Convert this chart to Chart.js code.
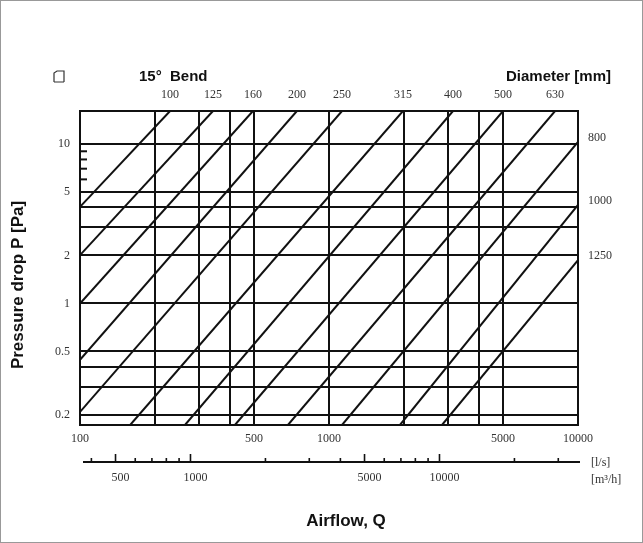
<!DOCTYPE html>
<html>
<head>
<meta charset="utf-8">
<script src="https://cdn.jsdelivr.net/npm/chart.js@4"></script>
<style>
  body { margin: 0; background: #fff; }
  #wrap { width: 643px; height: 543px; }
</style>
</head>
<body>
<div id="wrap"><canvas id="chart" width="643" height="543"></canvas></div>
<script>
// diameter lines [mm], each read as two end points (airflow l/s, pressure drop Pa)
const diameters = [100, 125, 160, 200, 250, 315, 400, 500, 630, 800, 1000, 1250];
const startFlow = [100, 100, 100, 100, 100, 159, 264, 419, 684, 1128, 1927, 2843];
const startDrop = [4.03, 2.01, 1.0, 0.443, 0.209, 0.173, 0.173, 0.173, 0.173, 0.173, 0.173, 0.173];
const endFlow = [230, 342, 495, 743, 1128, 1982, 3148, 5000, 8090, 10000, 10000, 10000];
const endDrop = [16.1, 16.1, 16.1, 16.1, 16.1, 16.1, 16.1, 16.1, 16.1, 10.3, 4.15, 1.87];

// axes
const flowRange = [100, 10000];
const dropRange = [0.173, 16.1];
const flowGrid = [100, 200, 300, 400, 500, 1000, 2000, 3000, 4000, 5000, 10000];
const flowLabels = [100, 500, 1000, 5000, 10000];
const dropGrid = [0.2, 0.3, 0.4, 0.5, 1, 2, 3, 4, 5, 10];
const dropLabels = [0.2, 0.5, 1, 2, 5, 10];
const dropMinor = [6, 7, 8, 9];
// second airflow scale in m3/h
const m3hTicks = [400, 500, 600, 700, 800, 900, 1000, 2000, 3000, 4000, 5000, 6000, 7000, 8000, 9000, 10000, 20000, 30000];
const m3hLabels = [500, 1000, 5000, 10000];

const serif = '"Liberation Serif", "DejaVu Serif", serif';
const sans = '"Liberation Sans", Arial, sans-serif';

const datasets = diameters.map((d, i) => ({
  label: d + ' mm',
  data: [{ x: startFlow[i], y: startDrop[i] }, { x: endFlow[i], y: endDrop[i] }],
  showLine: true,
  borderColor: '#111',
  borderWidth: 2,
  pointRadius: 0
}));

const decor = {
  id: 'decor',
  afterDraw(chart) {
    const ctx = chart.ctx;
    const a = chart.chartArea;
    const x = chart.scales.x, y = chart.scales.y;
    ctx.save();

    // frame of the plot
    ctx.strokeStyle = '#111';
    ctx.lineWidth = 2;
    ctx.strokeRect(a.left, a.top, a.right - a.left, a.bottom - a.top);

    // minor ticks on the left edge
    dropMinor.forEach(v => {
      const py = y.getPixelForValue(v);
      ctx.beginPath();
      ctx.moveTo(a.left, py);
      ctx.lineTo(a.left + 7, py);
      ctx.stroke();
    });

    // diameter labels
    ctx.fillStyle = '#333';
    ctx.font = '12px ' + serif;
    ctx.textBaseline = 'middle';
    diameters.forEach((d, i) => {
      if (endDrop[i] >= dropRange[1]) {
        ctx.textAlign = 'center';
        ctx.fillText(String(d), x.getPixelForValue(endFlow[i]), 95);
      } else {
        ctx.textAlign = 'left';
        ctx.fillText(String(d), a.right + 10, y.getPixelForValue(endDrop[i]) - 4);
      }
    });

    // headings
    ctx.fillStyle = '#111';
    ctx.font = 'bold 15px ' + sans;
    ctx.textAlign = 'left';
    ctx.fillText('15°  Bend', 139, 77);
    ctx.textAlign = 'right';
    ctx.fillText('Diameter [mm]', 611, 77);

    // small duct icon
    ctx.lineWidth = 1.2;
    ctx.strokeStyle = '#333';
    ctx.beginPath();
    ctx.moveTo(54, 82); ctx.lineTo(54, 73); ctx.lineTo(57, 71); ctx.lineTo(64, 71); ctx.lineTo(64, 82);
    ctx.moveTo(54, 82); ctx.lineTo(64, 82);
    ctx.stroke();

    // second airflow axis (m3/h) placed through the l/s scale
    const ay = 462;
    ctx.strokeStyle = '#111';
    ctx.lineWidth = 2;
    ctx.beginPath();
    ctx.moveTo(a.left + 3, ay);
    ctx.lineTo(a.right + 2, ay);
    ctx.stroke();
    ctx.lineWidth = 1.6;
    m3hTicks.forEach(m => {
      const px = x.getPixelForValue(m / 3.6);
      const h = m3hLabels.includes(m) ? 8 : 4;
      ctx.beginPath();
      ctx.moveTo(px, ay);
      ctx.lineTo(px, ay - h);
      ctx.stroke();
    });
    ctx.fillStyle = '#333';
    ctx.font = '12px ' + serif;
    ctx.textAlign = 'center';
    m3hLabels.forEach(m => {
      ctx.fillText(String(m), x.getPixelForValue(m / 3.6) + 5, 478);
    });
    ctx.textAlign = 'left';
    ctx.fillText('[l/s]', 591, 463);
    ctx.fillText('[m³/h]', 591, 480);

    // axis titles
    ctx.fillStyle = '#111';
    ctx.font = 'bold 17px ' + sans;
    ctx.textAlign = 'center';
    ctx.fillText('Airflow, Q', 346, 521);
    ctx.save();
    ctx.translate(18, 285);
    ctx.rotate(-Math.PI / 2);
    ctx.font = 'bold 17px ' + sans;
    ctx.fillText('Pressure drop P [Pa]', 0, 0);
    ctx.restore();

    // outer frame of the figure
    ctx.strokeStyle = '#999';
    ctx.lineWidth = 1;
    ctx.strokeRect(0.5, 0.5, 642, 542);
    ctx.restore();
  }
};

new Chart(document.getElementById('chart'), {
  type: 'scatter',
  data: { datasets: datasets },
  options: {
    responsive: false,
    animation: false,
    layout: { padding: { top: 111, right: 65, left: 0, bottom: 0 } },
    plugins: { legend: { display: false }, tooltip: { enabled: false } },
    scales: {
      x: {
        type: 'logarithmic',
        min: flowRange[0],
        max: flowRange[1],
        afterBuildTicks: s => { s.ticks = flowGrid.map(v => ({ value: v })); },
        afterFit: s => { s.height = 118; },
        grid: { color: '#111', lineWidth: 2, drawTicks: false },
        border: { display: false },
        ticks: {
          padding: 7,
          maxRotation: 0,
          autoSkip: false,
          color: '#333',
          font: { family: serif, size: 12 },
          callback: v => flowLabels.includes(v) ? String(v) : ''
        }
      },
      y: {
        type: 'logarithmic',
        min: dropRange[0],
        max: dropRange[1],
        afterBuildTicks: s => { s.ticks = dropGrid.map(v => ({ value: v })); },
        afterFit: s => { s.width = 80; },
        grid: { color: '#111', lineWidth: 2, drawTicks: false },
        border: { display: false },
        ticks: {
          padding: 10,
          autoSkip: false,
          color: '#333',
          font: { family: serif, size: 12 },
          callback: v => dropLabels.includes(v) ? String(v) : ''
        }
      }
    }
  },
  plugins: [decor]
});
</script>
</body>
</html>
